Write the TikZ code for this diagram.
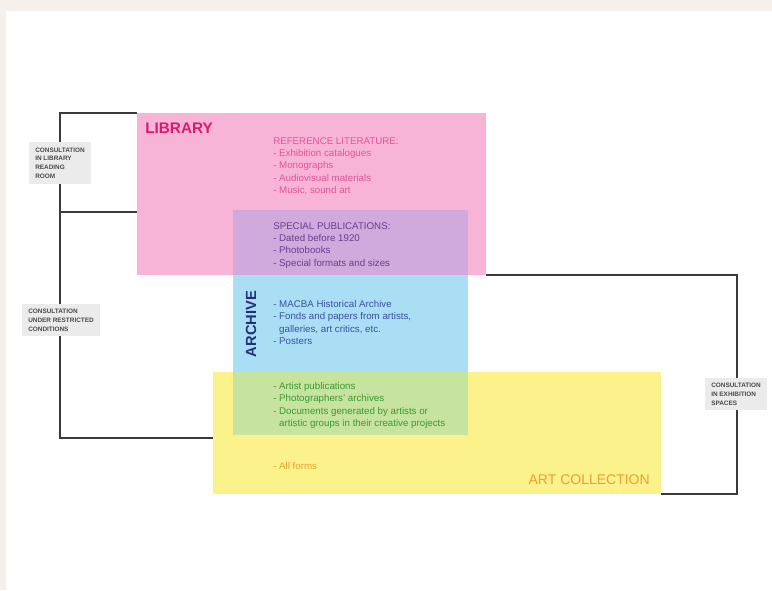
\documentclass[tikz,border=0pt]{standalone}
\usepackage{fontspec}
\setmainfont{Liberation Sans}
\usepackage{xcolor}
\usepackage{tikz}
\usetikzlibrary{positioning}
\definecolor{Cframe}{HTML}{F5F1EA}
\definecolor{Cpink}{HTML}{F8B4D6}
\definecolor{Cpurple}{HTML}{D0AADC}
\definecolor{Cblue}{HTML}{AADEF5}
\definecolor{Cyellow}{HTML}{FCF28C}
\definecolor{Cgreen}{HTML}{C6E3A0}
\definecolor{Clibtitle}{HTML}{D81B74}
\definecolor{Clibtext}{HTML}{E0559A}
\definecolor{Cspectext}{HTML}{6A3D8F}
\definecolor{Carchtitle}{HTML}{22307A}
\definecolor{Carchtext}{HTML}{3B4FA0}
\definecolor{Ccolltext}{HTML}{3C9A2E}
\definecolor{Corange}{HTML}{E9A030}
\definecolor{Ctag}{HTML}{EBEBEB}
\definecolor{Ctagtext}{HTML}{4A4A4A}
\definecolor{Cline}{HTML}{3A3A3A}
\tikzset{
  bracket/.style={draw=Cline, line width=1.1pt},
  tag/.style={fill=Ctag, text=Ctagtext, align=left, inner xsep=5pt, inner ysep=4pt,
    font=\bfseries\fontsize{4.8}{6.6}\selectfont},
  listtext/.style={anchor=north west, inner sep=0pt, align=left,
    font=\fontsize{7.3}{9.3}\selectfont},
}

\begin{document}
\begin{tikzpicture}[x=0.75pt,y=-0.75pt]
\fill[Cframe] (0,0) rectangle (772,590);
\fill[white] (6,11) rectangle (772,590);
\useasboundingbox (0,0) rectangle (772,590);
% coloured zones
\fill[Cpink] (137,113) coordinate (lib nw) rectangle (486,275) coordinate (lib se);
\fill[Cyellow] (213,372) coordinate (coll nw) rectangle (661,494) coordinate (coll se);
\fill[Cblue] (233,210) rectangle (468,435);
\fill[Cpurple] (233,210) rectangle (468,275);
\fill[Cgreen] (233,372) rectangle (468,435);
% consultation brackets
\coordinate (l top) at (60,113);
\coordinate (l mid) at (60,212);
\coordinate (l bot) at (60,438);
\coordinate (r top) at (737,275);
\coordinate (r bot) at (737,494);
\draw[bracket] (lib nw) -- (l top) -- (l bot) -- (coll nw |- l bot);
\draw[bracket] (l mid) -- (lib nw |- l mid);
\draw[bracket] (lib se) -- (r top) -- (r bot) -- (coll se);
\node[tag] (read tag) at (60,163) {CONSULTATION\\IN LIBRARY\\READING\\ROOM};
\node[tag] (restr tag) at (61,320) {CONSULTATION\\UNDER RESTRICTED\\CONDITIONS};
\node[tag] (exh tag) at (736,394) {CONSULTATION\\IN EXHIBITION\\SPACES};
% titles
\node[anchor=north west, inner sep=0pt, text=Clibtitle, font=\bfseries\fontsize{11.5}{12}\selectfont] (lib title) at (145,123) {LIBRARY};
\node[rotate=90, inner sep=0pt, text=Carchtitle, font=\bfseries\fontsize{11}{12}\selectfont] (arch title) at (251,324) {ARCHIVE};
\node[anchor=east, inner sep=0pt, text=Corange, font=\fontsize{10.5}{12}\selectfont] (coll title) at (650,480) {ART COLLECTION};
% contents
\node[listtext, text=Clibtext] (lib list) at (273,137) {REFERENCE LITERATURE:\\- Exhibition catalogues\\- Monographs\\- Audiovisual materials\\- Music, sound art};
\node[listtext, text=Cspectext] (spec list) at (273,222) {SPECIAL PUBLICATIONS:\\- Dated before 1920\\- Photobooks\\- Special formats and sizes};
\node[listtext, text=Carchtext] (arch list) at (273,300) {- MACBA Historical Archive\\- Fonds and papers from artists,\\\phantom{- }galleries, art critics, etc.\\- Posters};
\node[listtext, text=Ccolltext] (coll list) at (273,382) {- Artist publications\\- Photographers' archives\\- Documents generated by artists or\\\phantom{- }artistic groups in their creative projects};
\node[listtext, text=Corange] (all forms) at (273,462) {- All forms};
\end{tikzpicture}
\end{document}
